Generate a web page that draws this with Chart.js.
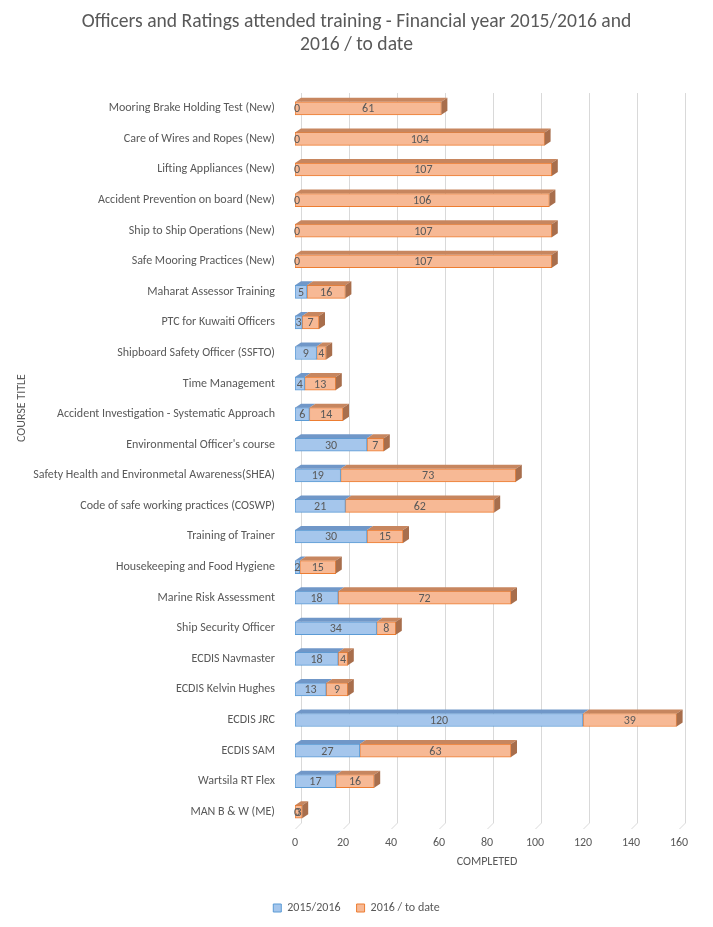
<!DOCTYPE html>
<html>
<head>
<meta charset="utf-8">
<script src="https://cdn.jsdelivr.net/npm/chart.js@4.4.0/dist/chart.umd.min.js"></script>
<style>
  html, body { margin: 0; padding: 0; background: #fff; }
  #wrap { width: 713px; height: 927px; }
</style>
</head>
<body>
<div id="wrap"><canvas id="myChart"></canvas></div>
<script>
var courses = [
    'Mooring Brake Holding Test (New)',
    'Care of Wires and Ropes (New)',
    'Lifting Appliances (New)',
    'Accident Prevention on board (New)',
    'Ship to Ship Operations (New)',
    'Safe Mooring Practices (New)',
    'Maharat Assessor Training',
    'PTC for Kuwaiti Officers',
    'Shipboard Safety Officer (SSFTO)',
    'Time Management',
    'Accident Investigation - Systematic Approach',
    "Environmental Officer's course",
    'Safety Health and Environmetal Awareness(SHEA)',
    'Code of safe working practices (COSWP)',
    'Training of Trainer',
    'Housekeeping and Food Hygiene',
    'Marine Risk Assessment',
    'Ship Security Officer',
    'ECDIS Navmaster',
    'ECDIS Kelvin Hughes',
    'ECDIS JRC',
    'ECDIS SAM',
    'Wartsila RT Flex',
    'MAN B & W (ME)'
];
var year2015 = [0, 0, 0, 0, 0, 0, 5, 3, 9, 4, 6, 30, 19, 21, 30, 2, 18, 34, 18, 13, 120, 27, 17, 0];
var year2016 = [61, 104, 107, 106, 107, 107, 16, 7, 4, 13, 14, 7, 73, 62, 15, 15, 72, 8, 4, 9, 39, 63, 16, 3];
var xTicks = [0, 20, 40, 60, 80, 100, 120, 140, 160];

var FONT = 'Carlito, Calibri, "Liberation Sans", sans-serif';
var GREY = '#595959';
var DX = 6, DY = 4; // depth of the 3d effect

// fake 3d: back grid + floor, then top/side faces of the bars and the value labels
var threeD = {
    id: 'threeD',
    beforeDatasetsDraw: function(chart) {
        var ctx = chart.ctx, x = chart.scales.x, area = chart.chartArea;
        ctx.save();
        ctx.strokeStyle = '#d9d9d9';
        ctx.lineWidth = 1;
        xTicks.forEach(function(v) {
            var px = Math.round(x.getPixelForValue(v)) + 0.5;
            ctx.beginPath();
            ctx.moveTo(px + DX, area.top);
            ctx.lineTo(px + DX, area.bottom - DY);
            ctx.lineTo(px, area.bottom + 2);
            ctx.stroke();
        });
        // y axis title, Excel puts it a bit above the middle
        ctx.fillStyle = GREY;
        ctx.font = '12px ' + FONT;
        ctx.textAlign = 'center';
        ctx.textBaseline = 'middle';
        ctx.translate(22, area.top + (area.bottom - area.top) / 2 - 52);
        ctx.rotate(-Math.PI / 2);
        ctx.fillText('COURSE TITLE', 0, 0);
        ctx.restore();
    },
    afterDatasetsDraw: function(chart) {
        var ctx = chart.ctx;
        var tops = ['#7097c8', '#c7865f'];
        var side = '#a86e4c';
        ctx.save();
        chart.data.datasets.forEach(function(ds, di) {
            chart.getDatasetMeta(di).data.forEach(function(el, i) {
                var top = el.y - el.height / 2, bottom = el.y + el.height / 2;
                var x0 = Math.min(el.base, el.x), x1 = Math.max(el.base, el.x);
                if (x1 - x0 > 0.5) {
                    ctx.fillStyle = tops[di];
                    ctx.beginPath();
                    ctx.moveTo(x0, top);
                    ctx.lineTo(x1, top);
                    ctx.lineTo(x1 + DX, top - DY);
                    ctx.lineTo(x0 + DX, top - DY);
                    ctx.closePath();
                    ctx.fill();
                }
                if (di === 1 && x1 - x0 > 0.5) {
                    ctx.fillStyle = side;
                    ctx.beginPath();
                    ctx.moveTo(x1, top);
                    ctx.lineTo(x1 + DX, top - DY);
                    ctx.lineTo(x1 + DX, bottom - DY);
                    ctx.lineTo(x1, bottom);
                    ctx.closePath();
                    ctx.fill();
                }
            });
        });
        ctx.fillStyle = GREY;
        ctx.font = '12px ' + FONT;
        ctx.textAlign = 'center';
        ctx.textBaseline = 'middle';
        chart.data.datasets.forEach(function(ds, di) {
            chart.getDatasetMeta(di).data.forEach(function(el, i) {
                var cx = (el.base + el.x) / 2;
                if (ds.data[i] === 0) cx = el.base + 2;
                ctx.fillText(ds.data[i], cx, el.y + 1);
            });
        });
        ctx.restore();
    }
};

var ctx = document.getElementById('myChart').getContext('2d');
var myChart = new Chart(ctx, {
    type: 'bar',
    data: {
        labels: courses,
        datasets: [
            {
                label: '2015/2016',
                data: year2015,
                backgroundColor: '#a5c6ec',
                borderColor: '#5b9bd5',
                borderWidth: 1,
                borderSkipped: false,
                barThickness: 13
            },
            {
                label: '2016 / to date',
                data: year2016,
                backgroundColor: '#f7b995',
                borderColor: '#ed7d31',
                borderWidth: 1,
                borderSkipped: false,
                barThickness: 13
            }
        ]
    },
    options: {
        indexAxis: 'y',
        responsive: true,
        maintainAspectRatio: false,
        animation: false,
        layout: { padding: { left: 0, right: 0, top: 0, bottom: 3 } },
        scales: {
            x: {
                stacked: true,
                min: 0,
                max: 160,
                grid: { display: false, drawTicks: false },
                border: { display: false },
                ticks: {
                    stepSize: 20,
                    color: GREY,
                    font: { size: 12, family: FONT },
                    padding: 9
                },
                title: {
                    display: true,
                    text: 'COMPLETED',
                    color: GREY,
                    font: { size: 12, family: FONT },
                    padding: { top: 0, bottom: 17 }
                },
                afterFit: function(scale) { scale.height = 59; }
            },
            y: {
                stacked: true,
                grid: { display: false },
                border: { display: false },
                ticks: {
                    color: GREY,
                    font: { size: 12, family: FONT },
                    padding: 12,
                    autoSkip: false
                },
                afterFit: function(scale) { scale.width = 295; }
            },
            // empty right strip so title/legend stay centred on the whole page
            yRight: {
                type: 'category',
                axis: 'y',
                position: 'right',
                grid: { display: false },
                border: { display: false },
                ticks: { display: false },
                afterFit: function(scale) { scale.width = 34; }
            }
        },
        plugins: {
            title: {
                display: true,
                text: ['Officers and Ratings attended training - Financial year 2015/2016 and', '2016 / to date'],
                color: GREY,
                font: { size: 19.6, family: FONT, weight: 'normal', lineHeight: 1.2 },
                padding: { top: 10, bottom: 36 }
            },
            legend: {
                display: true,
                position: 'bottom',
                labels: {
                    color: GREY,
                    font: { size: 12, family: FONT },
                    boxWidth: 8,
                    boxHeight: 8,
                    padding: 16
                }
            },
            tooltip: { enabled: false }
        }
    },
    plugins: [threeD]
});
</script>
</body>
</html>
